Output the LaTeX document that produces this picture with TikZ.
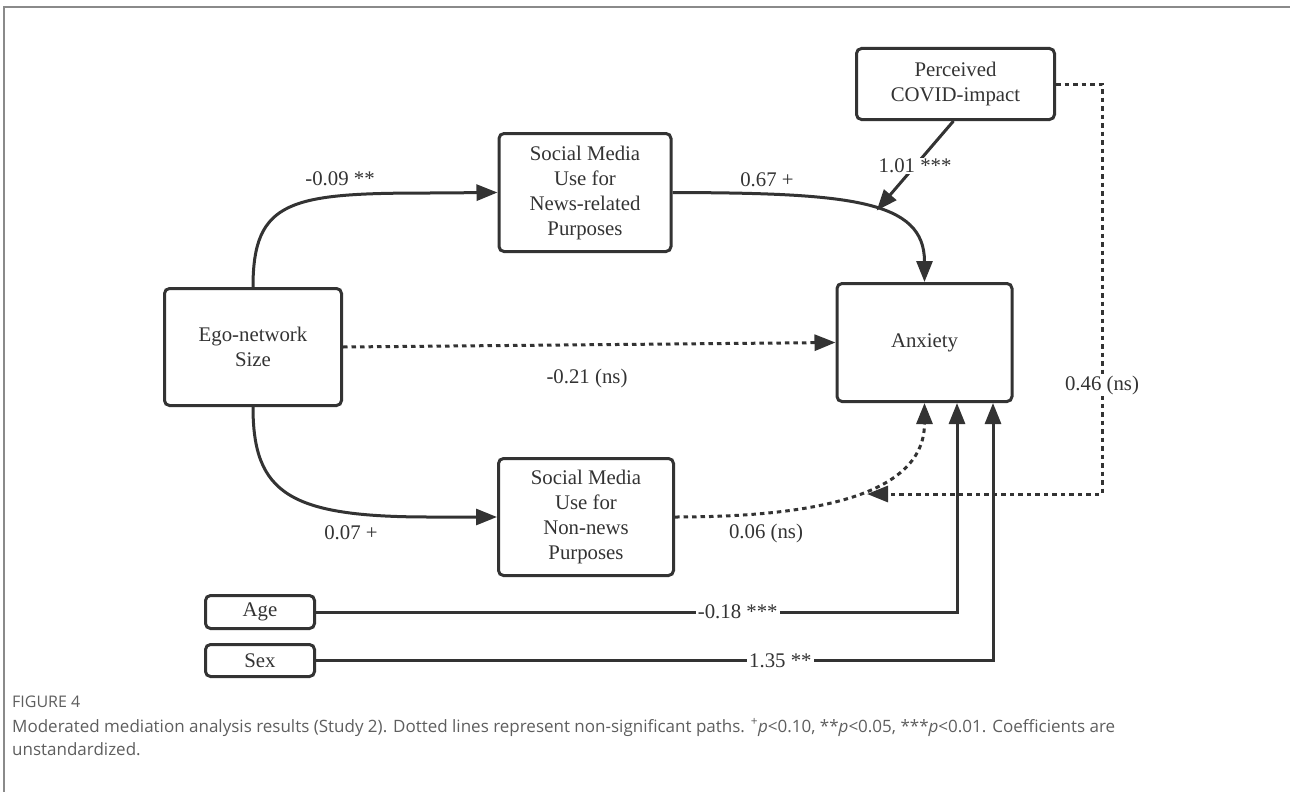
\documentclass[tikz,border=0pt]{standalone}
\usepackage{fontspec}
\setmainfont{Liberation Serif}
\newfontfamily\capfont{Open Sans}
\usetikzlibrary{arrows.meta}
\definecolor{ink}{HTML}{333333}
\definecolor{capgray}{HTML}{5E5E5E}
\definecolor{framegray}{HTML}{8A8A8A}
\begin{document}
\begin{tikzpicture}[x=1pt,y=-1pt,
  box/.style={draw=ink, line width=3pt, rounded corners=5pt, align=center,
    text=ink, inner sep=0pt, font=\fontsize{20.8}{25}\selectfont},
  conn/.style={draw=ink, line width=3pt},
  tip/.style={-{Triangle[length=21pt,width=16pt]}},
  dotline/.style={dash pattern=on 4.5pt off 4pt},
  lbl/.style={font=\fontsize{20.8}{25}\selectfont, text=ink, inner sep=2pt},
  captext/.style={anchor=base west, inner sep=0pt, text=capgray}]
\useasboundingbox (0,0) rectangle (1290,792);
\draw[framegray, line width=1.5pt] (4,792) -- (4,7) -- (1290,7);

% nodes
\node[box, minimum width=177pt, minimum height=117pt] (ego) at (253,347) {Ego-network\\Size};
\node[box, minimum width=172pt, minimum height=118pt] (news) at (585,192.5) {Social Media\\Use for\\News-related\\Purposes};
\node[box, minimum width=175pt, minimum height=117pt] (non) at (586,517) {Social Media\\Use for\\Non-news\\Purposes};
\node[box, minimum width=175pt, minimum height=118pt] (anx) at (924.5,342.5) {Anxiety};
\node[box, minimum width=198pt, minimum height=71pt] (cov) at (955.5,84) {Perceived\\COVID-impact};
\node[box, minimum width=109pt, minimum height=33pt] (age) at (260,612) {Age};
\node[box, minimum width=109pt, minimum height=32pt] (sex) at (260,660.5) {Sex};

% connectors
\draw[conn,tip] (ego.north) .. controls (253,200) and (290,193) .. (430,193) -- (news.west);
\node[lbl] (l1) at (340,179) {-0.09 **};

\draw[conn,tip] (ego.south) .. controls (253,494) and (290,517) .. (430,517) -- (non.west);
\node[lbl] (l2) at (351,533) {0.07 +};

\draw[conn,dotline,tip] (ego.east) -- (anx.west);
\node[lbl] (l3) at (587,378) {-0.21 (ns)};

\draw[conn,tip] (news.east) .. controls (850,193) and (924.5,200) .. (anx.north)
  coordinate[pos=0.55] (hit);
\node[lbl] (l4) at (767,180) {0.67 +};

\draw[conn,tip] ([xshift=-2pt]cov.south) -- node[lbl,fill=white,inner sep=1pt] {1.01 ***} (hit);

\draw[conn,dotline,tip] (non.east) .. controls (800,517) and (924.5,500) .. (anx.south);
\node[lbl] (l5) at (766,533) {0.06 (ns)};

\coordinate (c1) at (1102,84);
\coordinate (c2) at (1102,494);
\coordinate (covend) at (867,494);
\draw[conn,dotline,tip] (cov.east) -- (c1) -- node[lbl,fill=white,inner sep=1pt,pos=0.736] {0.46 (ns)} (c2) -- (covend);

\draw[conn,tip] (age.east) -| node[lbl,fill=white,pos=0.329] {-0.18 ***} ([xshift=32.5pt]anx.south);
\draw[conn,tip] (sex.east) -| node[lbl,fill=white,pos=0.343] {1.35 **} ([xshift=68.5pt]anx.south);

% caption
\node[captext, font=\capfont\fontsize{16}{18}\selectfont] (fig) at (12,707) {FIGURE 4};
\node[captext, font=\capfont\fontsize{17}{20}\selectfont] (c1t) at (12,732) {Moderated mediation analysis results (Study 2). Dotted lines represent non-significant paths. \textsuperscript{+}\textit{p}<0.10, **\textit{p}<0.05, ***\textit{p}<0.01. Coefficients are};
\node[captext, font=\capfont\fontsize{17}{20}\selectfont] (c2t) at (12,755) {unstandardized.};
\end{tikzpicture}
\end{document}
